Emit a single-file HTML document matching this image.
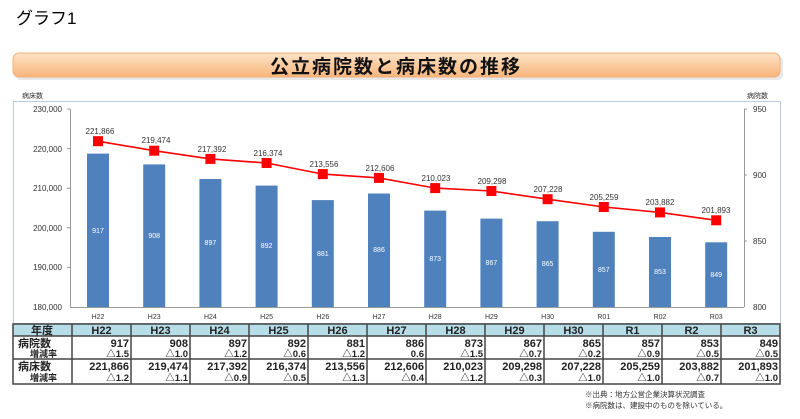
<!DOCTYPE html>
<html><head><meta charset="utf-8"><style>
body{margin:0;background:#fff;width:800px;height:419px;overflow:hidden}
svg{display:block;font-family:"Liberation Sans","Noto Sans CJK JP",sans-serif}
</style></head><body>
<svg width="800" height="419" viewBox="0 0 800 419" xmlns="http://www.w3.org/2000/svg">
<defs>
<linearGradient id="bn" x1="0" y1="0" x2="0" y2="1"><stop offset="0" stop-color="#fde3c8"/><stop offset="1" stop-color="#f8b57a"/></linearGradient>
</defs>
<text x="16" y="24" font-size="17" fill="#000">グラフ1</text>
<rect x="15" y="56" width="768" height="24" rx="6" fill="#e8e8e8"/>
<rect x="13" y="53" width="767" height="24" rx="6" fill="url(#bn)" stroke="#f2b07a"/>
<text x="396" y="73" font-size="19" font-weight="bold" text-anchor="middle" fill="#111" letter-spacing="2">公立病院数と病床数の推移</text>
<text x="22" y="98" font-size="7" fill="#333">病床数</text>
<text x="747" y="98" font-size="7" fill="#333">病院数</text>
<rect x="13.5" y="101.5" width="767" height="222" fill="#fff" stroke="#b9cde5"/>
<g font-size="8" fill="#333" text-anchor="end">
<text x="62" y="112">230,000</text><text x="62" y="152">220,000</text><text x="62" y="191">210,000</text><text x="62" y="231">200,000</text><text x="62" y="270">190,000</text><text x="62" y="310">180,000</text>
</g>
<g font-size="8" fill="#333">
<text x="753" y="112">950</text><text x="753" y="178">900</text><text x="753" y="244">850</text><text x="753" y="310">800</text>
</g>
<g stroke="#999" stroke-width="1">
<line x1="70.5" y1="109" x2="70.5" y2="307"/><line x1="744.5" y1="109" x2="744.5" y2="307"/>
<line x1="70" y1="307.5" x2="744" y2="307.5"/>
<line x1="67" y1="109" x2="70" y2="109"/><line x1="67" y1="148.6" x2="70" y2="148.6"/><line x1="67" y1="188.2" x2="70" y2="188.2"/><line x1="67" y1="227.8" x2="70" y2="227.8"/><line x1="67" y1="267.4" x2="70" y2="267.4"/>
<line x1="744" y1="109" x2="747" y2="109"/><line x1="744" y1="175" x2="747" y2="175"/><line x1="744" y1="241" x2="747" y2="241"/>
</g>
<g fill="#4f81bd">
<rect x="87" y="153.6" width="22" height="153.4"/><rect x="143.2" y="164.4" width="22" height="142.6"/><rect x="199.4" y="179" width="22" height="128"/><rect x="255.6" y="185.6" width="22" height="121.4"/><rect x="311.8" y="200.1" width="22" height="106.9"/><rect x="368" y="193.5" width="22" height="113.5"/><rect x="424.2" y="210.6" width="22" height="96.4"/><rect x="480.4" y="218.6" width="22" height="88.4"/><rect x="536.6" y="221.2" width="22" height="85.8"/><rect x="592.8" y="231.8" width="22" height="75.2"/><rect x="649" y="237" width="22" height="70"/><rect x="705.2" y="242.3" width="22" height="64.7"/>
</g>
<g font-size="7" fill="#fff" text-anchor="middle">
<text x="98" y="233">917</text><text x="154.2" y="238">908</text><text x="210.4" y="245">897</text><text x="266.6" y="248">892</text><text x="322.8" y="256">881</text><text x="379" y="252">886</text><text x="435.2" y="261">873</text><text x="491.4" y="265">867</text><text x="547.6" y="266">865</text><text x="603.8" y="272">857</text><text x="660" y="274">853</text><text x="716.2" y="277">849</text>
</g>
<polyline fill="none" stroke="#ff0000" stroke-width="1.6" points="98,141.2 154.2,150.7 210.4,158.9 266.6,163 322.8,174.1 379,177.9 435.2,188.1 491.4,191 547.6,199.2 603.8,207 660,212.4 716.2,220.3"/>
<g fill="#ff0000">
<rect x="93" y="136.2" width="10" height="10"/><rect x="149.2" y="145.7" width="10" height="10"/><rect x="205.4" y="153.9" width="10" height="10"/><rect x="261.6" y="158" width="10" height="10"/><rect x="317.8" y="169.1" width="10" height="10"/><rect x="374" y="172.9" width="10" height="10"/><rect x="430.2" y="183.1" width="10" height="10"/><rect x="486.4" y="186" width="10" height="10"/><rect x="542.6" y="194.2" width="10" height="10"/><rect x="598.8" y="202" width="10" height="10"/><rect x="655" y="207.4" width="10" height="10"/><rect x="711.2" y="215.3" width="10" height="10"/>
</g>
<g font-size="8" fill="#333" text-anchor="middle">
<text x="100" y="134">221,866</text><text x="156" y="143">219,474</text><text x="212" y="152">217,392</text><text x="268" y="156">216,374</text><text x="324" y="167">213,556</text><text x="380" y="171">212,606</text><text x="436" y="181">210,023</text><text x="492" y="184">209,298</text><text x="548" y="192">207,228</text><text x="604" y="200">205,259</text><text x="660" y="205">203,882</text><text x="716" y="213">201,893</text>
</g>
<g font-size="7" fill="#333" text-anchor="middle">
<text x="98" y="319">H22</text><text x="154.2" y="319">H23</text><text x="210.4" y="319">H24</text><text x="266.6" y="319">H25</text><text x="322.8" y="319">H26</text><text x="379" y="319">H27</text><text x="435.2" y="319">H28</text><text x="491.4" y="319">H29</text><text x="547.6" y="319">H30</text><text x="603.8" y="319">R01</text><text x="660" y="319">R02</text><text x="716.2" y="319">R03</text>
</g>
<!-- table -->
<rect x="13" y="324" width="767" height="12" fill="#b7dde8"/>
<g stroke="#444" stroke-width="1.5" fill="none">
<rect x="13" y="324" width="767" height="60"/>
<line x1="13" y1="336" x2="780" y2="336"/><line x1="13" y1="359" x2="780" y2="359"/>
<line x1="72" y1="324" x2="72" y2="384"/><line x1="131" y1="324" x2="131" y2="384"/><line x1="190" y1="324" x2="190" y2="384"/><line x1="249" y1="324" x2="249" y2="384"/><line x1="308" y1="324" x2="308" y2="384"/><line x1="367" y1="324" x2="367" y2="384"/><line x1="426" y1="324" x2="426" y2="384"/><line x1="485" y1="324" x2="485" y2="384"/><line x1="544" y1="324" x2="544" y2="384"/><line x1="603" y1="324" x2="603" y2="384"/><line x1="662" y1="324" x2="662" y2="384"/><line x1="721" y1="324" x2="721" y2="384"/>
</g>
<g font-size="11" font-weight="bold" fill="#222" text-anchor="middle">
<text x="42" y="334">年度</text>
<text x="101.5" y="334">H22</text><text x="160.5" y="334">H23</text><text x="219.5" y="334">H24</text><text x="278.5" y="334">H25</text><text x="337.5" y="334">H26</text><text x="396.5" y="334">H27</text><text x="455.5" y="334">H28</text><text x="514.5" y="334">H29</text><text x="573.5" y="334">H30</text><text x="632.5" y="334">R1</text><text x="691.5" y="334">R2</text><text x="750.5" y="334">R3</text>
</g>
<g font-size="11" font-weight="bold" fill="#222">
<text x="18" y="347">病院数</text><text x="18" y="370">病床数</text>
</g>
<g font-size="9" font-weight="bold" fill="#222">
<text x="30" y="357">増減率</text><text x="30" y="381">増減率</text>
</g>
<g font-size="11" font-weight="bold" fill="#222" text-anchor="end">
<text x="129" y="347">917</text><text x="188" y="347">908</text><text x="247" y="347">897</text><text x="306" y="347">892</text><text x="365" y="347">881</text><text x="424" y="347">886</text><text x="483" y="347">873</text><text x="542" y="347">867</text><text x="601" y="347">865</text><text x="660" y="347">857</text><text x="719" y="347">853</text><text x="778" y="347">849</text>
<text x="129" y="370">221,866</text><text x="188" y="370">219,474</text><text x="247" y="370">217,392</text><text x="306" y="370">216,374</text><text x="365" y="370">213,556</text><text x="424" y="370">212,606</text><text x="483" y="370">210,023</text><text x="542" y="370">209,298</text><text x="601" y="370">207,228</text><text x="660" y="370">205,259</text><text x="719" y="370">203,882</text><text x="778" y="370">201,893</text>
</g>
<g font-size="9.5" font-weight="bold" fill="#222" text-anchor="end">
<text x="129" y="357">△1.5</text><text x="188" y="357">△1.0</text><text x="247" y="357">△1.2</text><text x="306" y="357">△0.6</text><text x="365" y="357">△1.2</text><text x="424" y="357">0.6</text><text x="483" y="357">△1.5</text><text x="542" y="357">△0.7</text><text x="601" y="357">△0.2</text><text x="660" y="357">△0.9</text><text x="719" y="357">△0.5</text><text x="778" y="357">△0.5</text>
<text x="129" y="381">△1.2</text><text x="188" y="381">△1.1</text><text x="247" y="381">△0.9</text><text x="306" y="381">△0.5</text><text x="365" y="381">△1.3</text><text x="424" y="381">△0.4</text><text x="483" y="381">△1.2</text><text x="542" y="381">△0.3</text><text x="601" y="381">△1.0</text><text x="660" y="381">△1.0</text><text x="719" y="381">△0.7</text><text x="778" y="381">△1.0</text>
</g>
<g font-size="7.5" fill="#333">
<text x="585" y="397">※出典：地方公営企業決算状況調査</text>
<text x="585" y="408">※病院数は、建設中のものを除いている。</text>
</g>
</svg>
</body></html>
